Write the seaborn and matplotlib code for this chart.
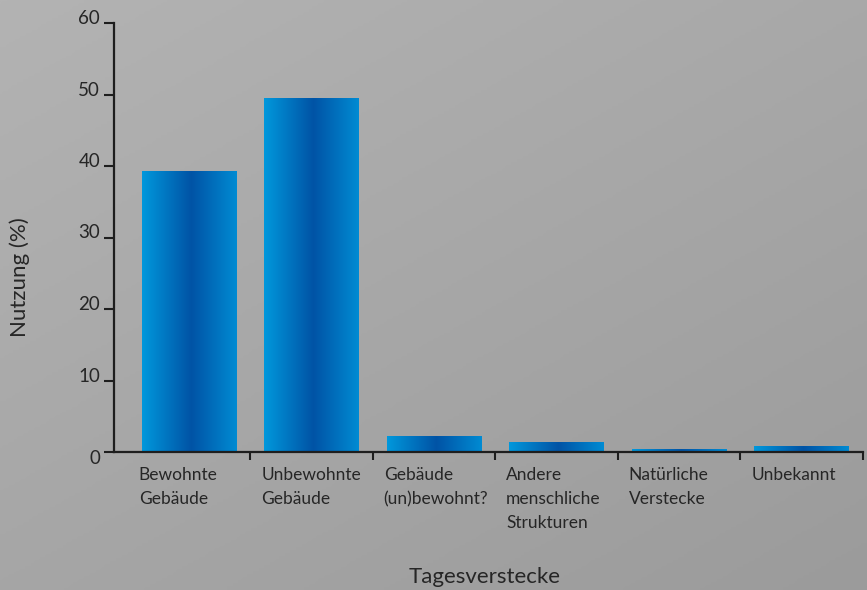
import numpy as np
import pandas as pd
import matplotlib
matplotlib.use("Agg")
import matplotlib.pyplot as plt
import matplotlib.transforms as mtransforms
from matplotlib.colors import LinearSegmentedColormap
import seaborn as sns

categories = ["Bewohnte\nGebäude", "Unbewohnte\nGebäude", "Gebäude\n(un)bewohnt?",
              "Andere\nmenschliche\nStrukturen", "Natürliche\nVerstecke", "Unbekannt"]
values = [39.3, 49.5, 2.2, 1.3, 0.4, 0.7]
yticks = [0, 10, 20, 30, 40, 50, 60]
xlabel = "Tagesverstecke"
ylabel = "Nutzung (%)"

sns.set_theme(style="white")
FONT = ["Lato", "DejaVu Sans"]
plt.rcParams["font.family"] = FONT
TXT = "#262626"

W, H = 867, 590
fig = plt.figure(figsize=(W / 100, H / 100), dpi=100)

# background gradient
bg = fig.add_axes([0, 0, 1, 1], zorder=-10)
yy, xx = np.mgrid[0:1:200j, 0:1:300j]
g = 0.45 * xx + 0.55 * yy
bgcmap = LinearSegmentedColormap.from_list("bg", ["#b3b3b3", "#9b9b9b"])
bg.imshow(g, cmap=bgcmap, aspect="auto", extent=[0, 1, 0, 1], origin="upper")
bg.set_axis_off()

left, right, top, bottom = 114, 863, 23, 452
ax = fig.add_axes([left / W, 1 - bottom / H, (right - left) / W, (bottom - top) / H])
ax.set_facecolor("none")

df = pd.DataFrame({"cat": categories, "val": values})
sns.barplot(data=df, x="cat", y="val", ax=ax, width=0.774, color="#0070c0",
            saturation=1)

slot = (right - left) / (5.5 + 0.614)
ax.set_xlim(-0.5 - 14 / slot, 5.5)
ax.set_ylim(0, 60)

barcmap = LinearSegmentedColormap.from_list(
    "bar", [(0, "#0098dc"), (0.52, "#0053a5"), (1, "#008bd3")])
grad = np.linspace(0, 1, 256).reshape(1, -1)
for p in list(ax.patches):
    x0, y0 = p.get_x(), p.get_y()
    w, h = p.get_width(), p.get_height()
    ax.imshow(grad, cmap=barcmap, aspect="auto", extent=[x0, x0 + w, y0, y0 + h],
              zorder=2, interpolation="bilinear")
    p.set_visible(False)
ax.set_xlim(-0.5 - 14 / slot, 5.5)
ax.set_ylim(0, 60)

for s in ["top", "right"]:
    ax.spines[s].set_visible(False)
for s in ["left", "bottom"]:
    ax.spines[s].set_color("#1e1e1e")
    ax.spines[s].set_linewidth(1.6)
    ax.spines[s].set_zorder(3)

# x ticks: marks at boundaries, labels at centers
ax.set_xticks([i + 0.5 for i in range(6)])
ax.set_xticklabels([])
ax.set_xticks(range(6), minor=True)
ax.set_xticklabels(categories, minor=True, ha="left", va="top",
                   fontsize=12.5, color=TXT, linespacing=1.6)
ax.tick_params(axis="x", which="major", direction="out", length=6, width=1.5,
               color="#1e1e1e", bottom=True)
ax.tick_params(axis="x", which="minor", length=0, pad=11, bottom=True)
off = mtransforms.ScaledTranslation(-0.505, 0, fig.dpi_scale_trans)
for lab in ax.get_xticklabels(minor=True):
    lab.set_transform(lab.get_transform() + off)

ax.set_yticks(yticks)
ax.set_yticklabels([str(v) for v in yticks], fontsize=13.5, color=TXT)
ax.tick_params(axis="y", direction="out", length=7, width=1.5, color="#1e1e1e",
               pad=3, left=True)
for lab in ax.get_yticklabels():
    dy = -0.05 if lab.get_text() == "0" else 0.06
    lab.set_transform(lab.get_transform() +
                      mtransforms.ScaledTranslation(0, dy, fig.dpi_scale_trans))

ax.set_xlabel("")
ax.set_ylabel("")
fig.text(485 / W, 1 - 577 / H, xlabel, ha="center", va="center",
         fontsize=16, color=TXT)
fig.text(20 / W, 1 - 277 / H, ylabel, ha="center", va="center", rotation=90,
         fontsize=16, color=TXT)

fig.savefig("out.png", dpi=100)
